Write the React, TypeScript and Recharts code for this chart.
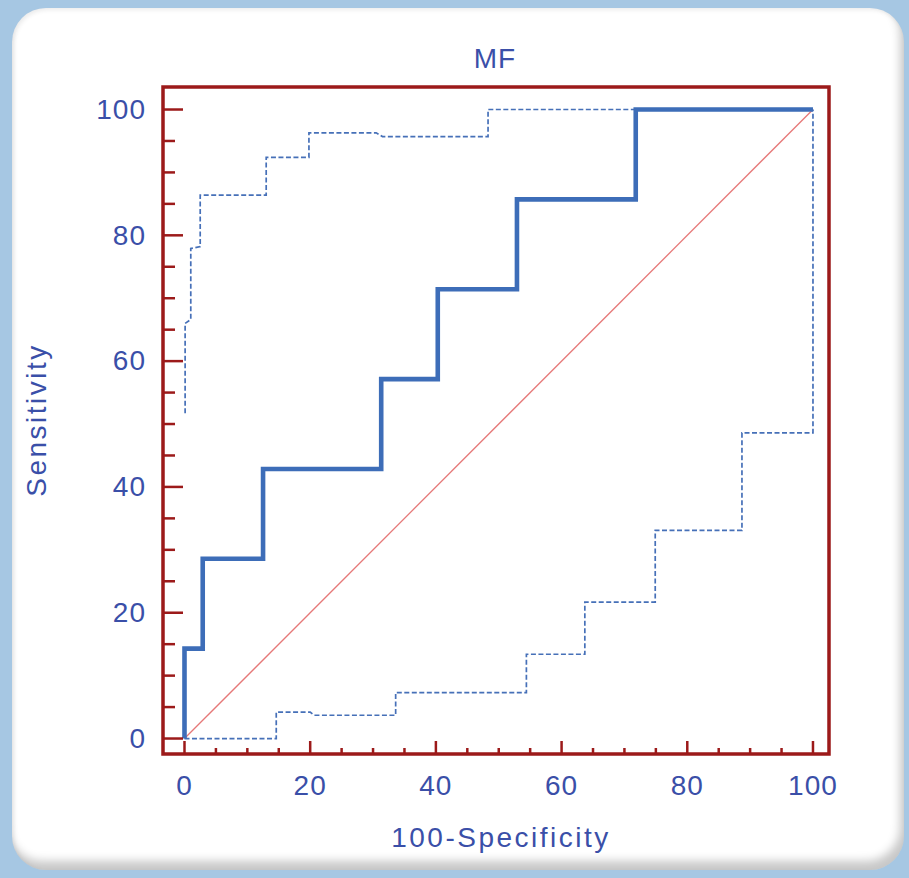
import React from 'react';
import { LineChart, Line, XAxis, YAxis, ReferenceArea } from 'recharts';

// ROC operating points (100-Specificity, Sensitivity)
const rocX = [0, 2.9, 12.5, 31.3, 40.3, 52.9, 71.8, 100];
const rocY = [0, 14.29, 28.57, 42.86, 57.14, 71.43, 85.71, 100];

// Upper confidence bound
const upperX = [0.1, 0.1, 1.0, 1.0, 2.5, 2.5, 13.0, 13.0, 19.8, 19.8, 30.5, 31.5, 48.3, 48.3, 100];
const upperY = [51.7, 66.0, 66.6, 77.9, 78.2, 86.4, 86.4, 92.4, 92.4, 96.3, 96.3, 95.7, 95.7, 100, 100];

// Lower confidence bound
const lowerX = [0, 14.6, 14.6, 20.0, 20.6, 33.6, 33.6, 54.4, 54.4, 63.7, 63.7, 74.9, 74.9, 88.7, 88.7, 100, 100];
const lowerY = [0, 0, 4.2, 4.2, 3.7, 3.7, 7.3, 7.3, 13.4, 13.4, 21.7, 21.7, 33.1, 33.1, 48.6, 48.6, 100];

// Reference diagonal
const diagX = [0, 100];
const diagY = [0, 100];

const xTicks = [0, 5, 10, 15, 20, 25, 30, 35, 40, 45, 50, 55, 60, 65, 70, 75, 80, 85, 90, 95, 100];
const yTicks = [0, 5, 10, 15, 20, 25, 30, 35, 40, 45, 50, 55, 60, 65, 70, 75, 80, 85, 90, 95, 100];
const majorStep = 20;

const xDomain: [number, number] = [-3.42, 102.55];
const yDomain: [number, number] = [-2.46, 103.58];

const title = 'MF';
const xLabel = '100-Specificity';
const yLabel = 'Sensitivity';

const toPts = (xs: number[], ys: number[]) => xs.map((x, i) => ({ x, y: ys[i] }));
const rocData = toPts(rocX, rocY);
const upperData = toPts(upperX, upperY);
const lowerData = toPts(lowerX, lowerY);
const diagData = toPts(diagX, diagY);

const FRAME = '#9c1a1a';
const TEXT = '#3a4fa8';
const FONT = '"Liberation Sans", Arial, sans-serif';
const Y_MARGIN = 17;
const X_MARGIN = 21;

const YTick = (props: any) => {
  const { x, y, payload } = props;
  const v = payload.value;
  const major = v % majorStep === 0;
  const x0 = x + Y_MARGIN;
  return (
    <g>
      <line x1={x0} x2={x0 + (major ? 20 : 12)} y1={y} y2={y} stroke={FRAME} strokeWidth={2.5} />
      {major && (
        <text x={x} y={y} dy="0.33em" textAnchor="end" fill={TEXT} fontSize={28} fontFamily={FONT} style={{ letterSpacing: '1px' }}>
          {v}
        </text>
      )}
    </g>
  );
};

const XTick = (props: any) => {
  const { x, y, payload } = props;
  const v = payload.value;
  const major = v % majorStep === 0;
  const y0 = y - X_MARGIN;
  return (
    <g>
      <line x1={x} x2={x} y1={y0} y2={y0 - (major ? 13 : 6)} stroke={FRAME} strokeWidth={2.5} />
      {major && (
        <text x={x} y={y} dy="0.72em" textAnchor="middle" fill={TEXT} fontSize={28} fontFamily={FONT} style={{ letterSpacing: '1px' }}>
          {v}
        </text>
      )}
    </g>
  );
};

export default function App() {
  return (
    <div style={{ position: 'absolute', left: 0, top: 0, width: 909, height: 878, background: '#a6c7e3', overflow: 'hidden' }}>
      <div
        style={{
          position: 'absolute',
          left: 12,
          top: 8,
          width: 892,
          height: 862,
          borderRadius: 34,
          background: '#ffffff',
          boxShadow: 'inset -4px -9px 10px rgba(0,0,0,0.22), inset 2px 2px 4px rgba(0,0,0,0.08)',
        }}
      />
      <div
        style={{
          position: 'absolute',
          left: 395,
          top: 45,
          width: 200,
          textAlign: 'center',
          fontFamily: FONT,
          fontSize: 28,
          lineHeight: '28px',
          color: TEXT,
          letterSpacing: '1px',
        }}
      >
        {title}
      </div>
      <div style={{ position: 'absolute', left: 0, top: 0 }}>
        <LineChart width={909} height={878} margin={{ top: 87, right: 80, bottom: 64, left: 83 }}>
          <XAxis
            type="number"
            dataKey="x"
            domain={xDomain}
            allowDataOverflow
            ticks={xTicks}
            interval={0}
            height={60}
            axisLine={false}
            tickLine={false}
            tickSize={0}
            tickMargin={X_MARGIN}
            tick={<XTick />}
            label={{
              content: () => (
                <text x={501} y={847} textAnchor="middle" fill={TEXT} fontSize={28} fontFamily={FONT} style={{ letterSpacing: '2.5px' }}>
                  {xLabel}
                </text>
              ),
            }}
          />
          <YAxis
            type="number"
            dataKey="y"
            domain={yDomain}
            allowDataOverflow
            ticks={yTicks}
            interval={0}
            width={80}
            axisLine={false}
            tickLine={false}
            tickSize={0}
            tickMargin={Y_MARGIN}
            tick={<YTick />}
            label={{
              content: () => (
                <text x={46} y={420} transform="rotate(-90 46 420)" textAnchor="middle" fill={TEXT} fontSize={28} fontFamily={FONT} style={{ letterSpacing: '2.5px' }}>
                  {yLabel}
                </text>
              ),
            }}
          />
          <ReferenceArea
            x1={xDomain[0]}
            x2={xDomain[1]}
            y1={yDomain[0]}
            y2={yDomain[1]}
            fill="none"
            fillOpacity={0}
            stroke={FRAME}
            strokeWidth={3.5}
            ifOverflow="visible"
          />
          <Line data={diagData} dataKey="y" type="linear" stroke="#e67878" strokeWidth={1.3} dot={false} activeDot={false} isAnimationActive={false} />
          <Line data={upperData} dataKey="y" type="linear" stroke="#4670b8" strokeWidth={1.7} strokeDasharray="5 2.5" dot={false} activeDot={false} isAnimationActive={false} />
          <Line data={lowerData} dataKey="y" type="linear" stroke="#4670b8" strokeWidth={1.7} strokeDasharray="5 2.5" dot={false} activeDot={false} isAnimationActive={false} />
          <Line data={rocData} dataKey="y" type="stepBefore" stroke="#3d6db8" strokeWidth={4.6} dot={false} activeDot={false} isAnimationActive={false} />
        </LineChart>
      </div>
    </div>
  );
}
